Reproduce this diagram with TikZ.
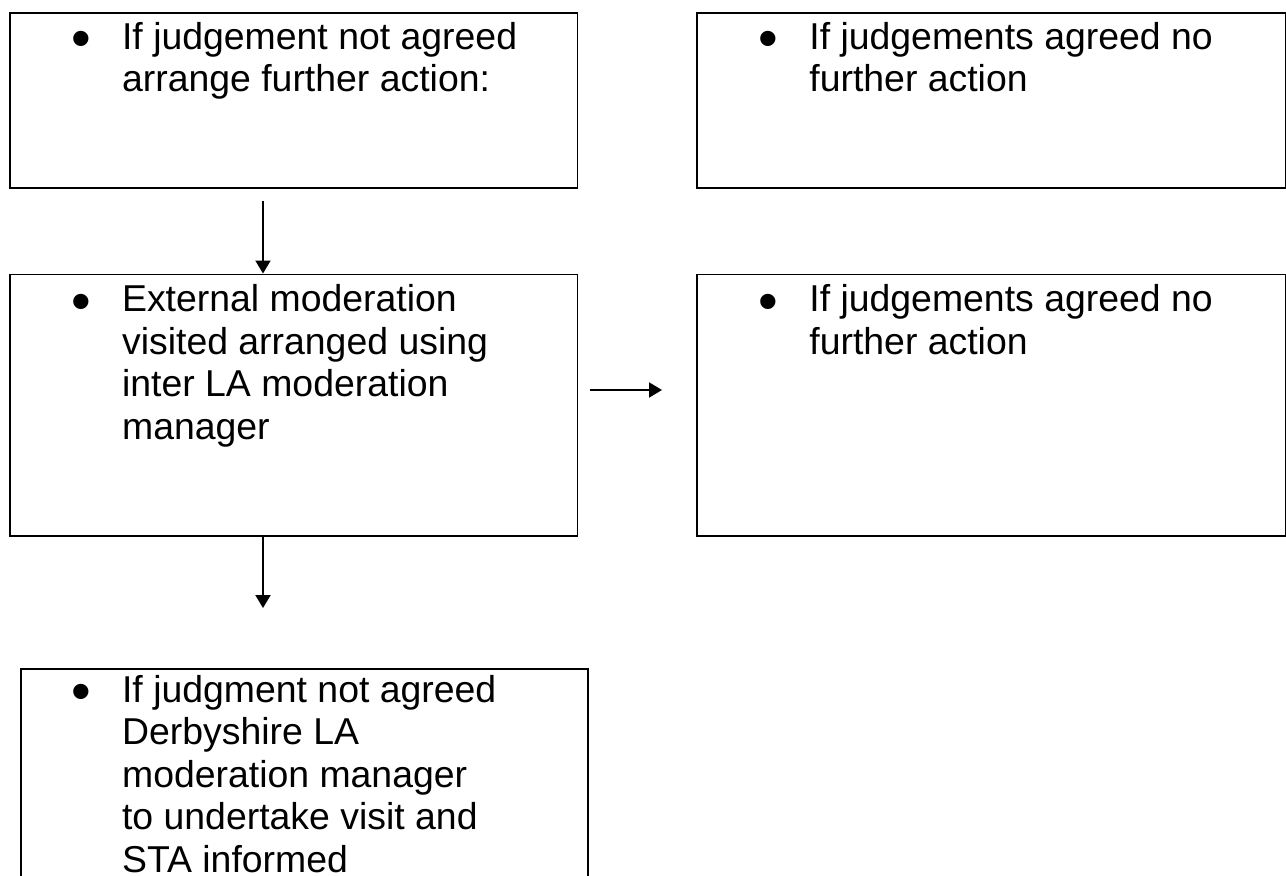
\documentclass[tikz,border=0pt]{standalone}
\usepackage{fontspec}
\usepackage{graphicx}
\setmainfont{Liberation Sans}
\usetikzlibrary{arrows.meta}

\tikzset{
  box/.style={draw=black, line width=0.9pt, anchor=north west, inner sep=0pt},
  txt/.style={anchor=base west, inner sep=0pt,
    font=\fontsize{18.7pt}{21.3pt}\selectfont},
  flow/.style={line width=1pt, -{Triangle[length=6.5pt, width=7.5pt]}}
}
\newcommand{\itm}[1]{\makebox[41pt][c]{\raisebox{-4.3pt}{\scalebox{1.5}{\textbullet}}}\parbox[t]{215pt}{\raggedright #1}}

\begin{document}
\begin{tikzpicture}[x=0.5pt, y=-0.5pt]
        \useasboundingbox (0,0) rectangle (1286,875);
        \clip (0,0) rectangle (1286,875);

        \node[box, minimum width=283.75pt, minimum height=87.5pt] (notagreed) at (9,11.7) {};
        \node[box, minimum width=294.5pt, minimum height=87.5pt] (agreedtop) at (696,11.7) {};
        \node[box, minimum width=283.75pt, minimum height=130.75pt] (external) at (9,273.5) {};
        \node[box, minimum width=294.5pt, minimum height=130.75pt] (agreedmid) at (696,273.5) {};
        \node[box, minimum width=283.5pt, minimum height=121pt] (derby) at (20,668) {};

        \node[txt] (notagreedtxt) at (39.7,49.3) {\itm{If judgement not agreed\\ arrange further action:}};
        \node[txt] (agreedtoptxt) at (727,49.3) {\itm{If judgements agreed no\\ further action}};
        \node[txt] (externaltxt) at (39.7,311.7) {\itm{External moderation\\ visited arranged using\\ inter LA moderation\\ manager}};
        \node[txt] (agreedmidtxt) at (727,311.7) {\itm{If judgements agreed no\\ further action}};
        \node[txt] (derbytxt) at (39.7,702) {\itm{If judgment not agreed\\ Derbyshire LA\\ moderation manager\\ to undertake visit and\\ STA informed}};

        \coordinate (a1) at (263,200.7);
        \draw[flow] (a1) -- (a1 |- external.north);
        \coordinate (a2) at (263,608);
        \draw[flow] (a2 |- external.south) -- (a2);
        \coordinate (a3s) at (590,390);
        \coordinate (a3e) at (662,390);
        \draw[flow] (a3s) -- (a3e);
    \end{tikzpicture}
\end{document}
